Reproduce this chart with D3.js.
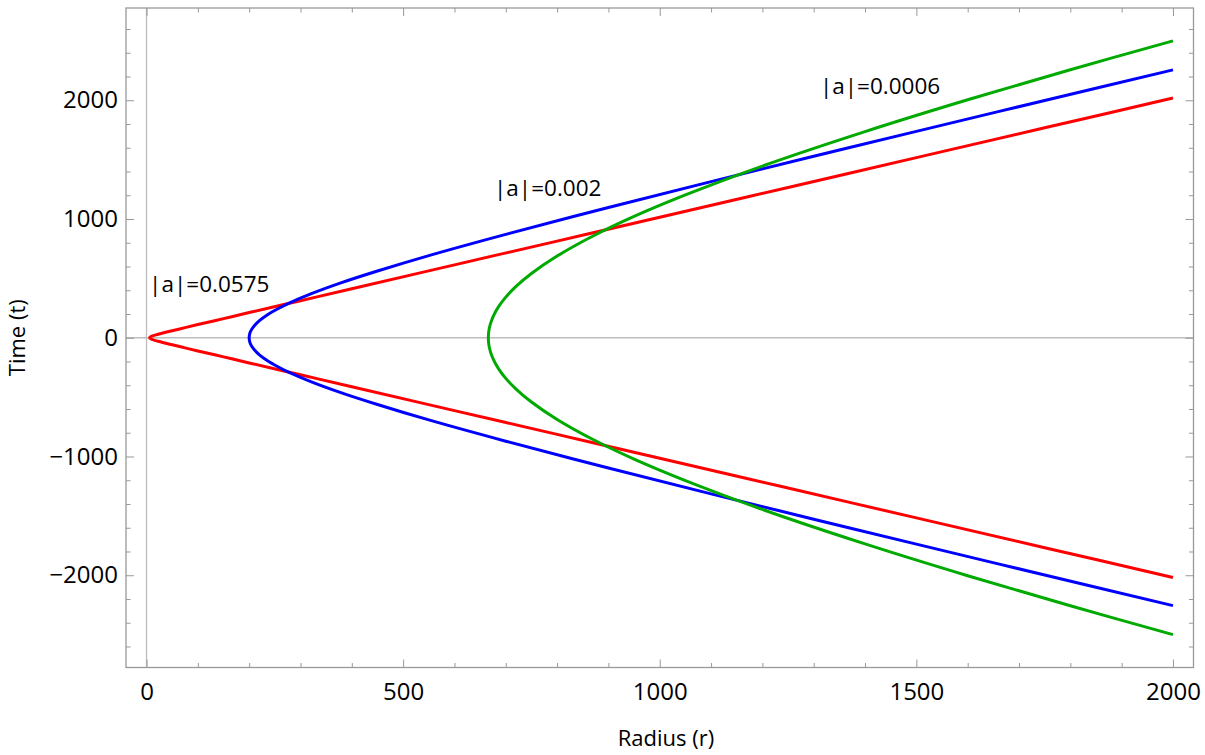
<!DOCTYPE html>
<html>
<head>
<meta charset="utf-8">
<script src="https://cdn.jsdelivr.net/npm/d3@7"></script>
<style>
  body { margin: 0; background: #fff; }
  svg { font-family: "Open Sans", sans-serif; }
</style>
</head>
<body>
<div id="chart"></div>
<script>
// curves, listed bottom branch -> vertex -> top branch
const redR = [2000, 1750, 1500, 1250, 1000, 800, 600, 400, 300, 200, 150, 100, 75, 50, 30, 20, 15, 10, 8, 7, 6,
              7, 8, 10, 15, 20, 30, 50, 75, 100, 150, 200, 300, 400, 600, 800, 1000, 1250, 1500, 1750, 2000];
const redT = [-2019, -1768, -1517, -1266, -1015, -814, -614, -413, -312, -212, -161, -111, -85, -59, -38, -26, -20, -13, -9, -6, 0,
              6, 9, 13, 20, 26, 38, 59, 85, 111, 161, 212, 312, 413, 614, 814, 1015, 1266, 1517, 1768, 2019];

const blueR = [2000, 1750, 1500, 1300, 1100, 900, 700, 550, 450, 380, 320, 280, 255, 235, 220, 210, 206, 203, 201, 200,
               201, 203, 206, 210, 220, 235, 255, 280, 320, 380, 450, 550, 700, 900, 1100, 1300, 1500, 1750, 2000];
const blueT = [-2256, -1998, -1738, -1528, -1315, -1097, -871, -692, -562, -464, -369, -296, -242, -192, -144, -101, -78, -55, -32, 0,
               32, 55, 78, 101, 144, 192, 242, 296, 369, 464, 562, 692, 871, 1097, 1315, 1528, 1738, 1998, 2256];

const greenR = [2000, 1800, 1600, 1400, 1200, 1050, 950, 870, 800, 750, 720, 700, 686, 676, 670, 667, 666,
                667, 670, 676, 686, 700, 720, 750, 800, 870, 950, 1050, 1200, 1400, 1600, 1800, 2000];
const greenT = [-2500, -2257, -2004, -1736, -1446, -1203, -1022, -857, -688, -541, -432, -342, -262, -185, -117, -58, 0,
                58, 117, 185, 262, 342, 432, 541, 688, 857, 1022, 1203, 1446, 1736, 2004, 2257, 2500];

const seriesNames = ["|a|=0.0575", "|a|=0.002", "|a|=0.0006"];
const seriesColors = ["#ff0000", "#0000ff", "#00aa00"];
// label anchor points (r, t) for the annotations
const labelR = [5, 677, 1312];
const labelT = [382, 1192, 2050];

const xMajor = [0, 500, 1000, 1500, 2000];
const yMajor = [-2000, -1000, 0, 1000, 2000];

const width = 1205, height = 755;
const frameL = 126, frameR = 1193.5, frameT = 8, frameB = 667.5;

const svg = d3.select("#chart").append("svg")
    .attr("width", width)
    .attr("height", height);

const x = d3.scaleLinear().domain([-40, 2040]).range([frameL, frameR]);
const y = d3.scaleLinear().domain([-2777, 2777]).range([frameB, frameT]);

const xMinor = d3.range(0, 2001, 100).filter(v => v % 500 !== 0);
const yMinor = d3.range(-2600, 2601, 200).filter(v => v % 1000 !== 0);

// zero axes
svg.append("line")
    .attr("x1", x(0)).attr("x2", x(0))
    .attr("y1", frameT).attr("y2", frameB)
    .attr("stroke", "#bdbdbd").attr("stroke-width", 1.3);
svg.append("line")
    .attr("x1", frameL).attr("x2", frameR)
    .attr("y1", y(0)).attr("y2", y(0))
    .attr("stroke", "#bdbdbd").attr("stroke-width", 1.3);

// frame ticks, all four sides, pointing inward
function frameAxis(axisFn, scale, values, size, pos, labels) {
    const ax = axisFn(scale).tickValues(values).tickSizeInner(-size).tickSizeOuter(0);
    if (labels) ax.tickPadding(labels).tickFormat(d => d < 0 ? "\u2212" + Math.abs(d) : d);
    else ax.tickFormat("");
    const g = svg.append("g").attr("transform", pos).call(ax);
    g.select(".domain").remove();
    g.selectAll(".tick line").attr("stroke", "#999").attr("stroke-width", 1);
    g.selectAll("text").attr("font-size", 24).attr("fill", "#000")
        .attr("font-family", "'Open Sans', sans-serif");
    return g;
}
frameAxis(d3.axisBottom, x, xMajor, 8, `translate(0,${frameB})`, 15);
frameAxis(d3.axisBottom, x, xMinor, 4.5, `translate(0,${frameB})`, 0);
frameAxis(d3.axisTop, x, xMajor, 8, `translate(0,${frameT})`, 0);
frameAxis(d3.axisTop, x, xMinor, 4.5, `translate(0,${frameT})`, 0);
frameAxis(d3.axisLeft, y, yMajor, 8, `translate(${frameL},0)`, 8);
frameAxis(d3.axisLeft, y, yMinor, 4.5, `translate(${frameL},0)`, 0);
frameAxis(d3.axisRight, y, yMajor, 8, `translate(${frameR},0)`, 0);
frameAxis(d3.axisRight, y, yMinor, 4.5, `translate(${frameR},0)`, 0);

svg.append("rect")
    .attr("x", frameL).attr("y", frameT)
    .attr("width", frameR - frameL).attr("height", frameB - frameT)
    .attr("fill", "none").attr("stroke", "#999").attr("stroke-width", 1.3);

// curves
const curves = [
    d3.zip(redR, redT),
    d3.zip(blueR, blueT),
    d3.zip(greenR, greenT)
];
const line = d3.line()
    .x(d => x(d[0]))
    .y(d => y(d[1]))
    .curve(d3.curveCatmullRom);

svg.append("g").selectAll("path")
    .data(curves)
    .enter()
    .append("path")
        .attr("d", line)
        .attr("fill", "none")
        .attr("stroke", (d, i) => seriesColors[i])
        .attr("stroke-width", 3);

svg.append("g").selectAll("text")
    .data(seriesNames)
    .enter()
    .append("text")
        .attr("x", (d, i) => x(labelR[i]))
        .attr("y", (d, i) => y(labelT[i]))
        .attr("font-size", 22.5)
        .attr("fill", "#000")
        .text(d => d);

// axis titles
svg.append("text")
    .attr("x", 666)
    .attr("y", 746)
    .attr("text-anchor", "middle")
    .attr("font-size", 22)
    .text("Radius (r)");

svg.append("text")
    .attr("transform", `translate(25,${y(0)}) rotate(-90)`)
    .attr("text-anchor", "middle")
    .attr("font-size", 22)
    .text("Time (t)");
</script>
</body>
</html>
